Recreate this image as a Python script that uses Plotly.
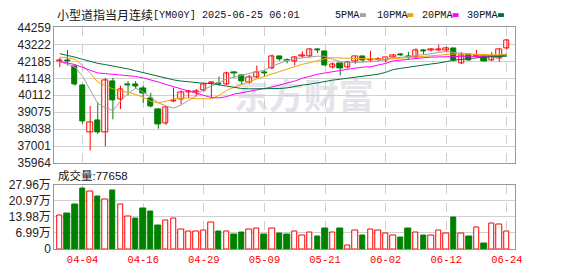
import plotly.graph_objects as go

dates = ["04-01","04-02","04-03","04-04","04-07","04-08","04-09","04-10","04-11","04-14",
         "04-15","04-16","04-17","04-21","04-22","04-23","04-24","04-25","04-28","04-29",
         "04-30","05-01","05-02","05-05","05-06","05-07","05-08","05-09","05-12","05-13",
         "05-14","05-15","05-16","05-19","05-20","05-21","05-22","05-23","05-26","05-27",
         "05-28","05-29","05-30","06-02","06-03","06-04","06-05","06-06","06-09","06-10",
         "06-11","06-12","06-13","06-16","06-17","06-18","06-19","06-20","06-23","06-24"]

open_ = [42180,42260,41890,40700,37850,38550,37850,40980,39840,40750,
         40750,40540,39940,39270,38400,39750,39840,40280,40300,40410,
         40830,40850,40790,41480,41320,40890,41210,41510,41780,42500,
         42270,42160,42480,42460,42900,42790,41830,42060,41800,42200,
         42460,42270,42290,42250,42440,42630,42480,42400,42860,42850,
         42860,42880,42980,42030,42600,42480,42500,42220,42350,42980]
high_ = [42405,42880,41930,40790,39460,39690,41170,41170,40700,40980,
         40980,40700,40260,39330,39440,40580,40410,40410,40500,40850,
         40920,41260,41550,41590,41400,41360,41930,41650,42600,42500,
         42370,42500,42790,42980,42980,42820,42120,42060,42220,42500,
         42500,42830,42440,42400,42630,42690,42770,42980,42940,42980,
         43200,43070,42980,42750,42630,42880,42560,42750,42980,43550]
low_ = [41835,41930,40700,38380,36740,37750,36990,38640,39270,40120,
        40510,39650,39370,38070,38300,39690,39560,39940,40030,40320,
        39970,40700,40750,41170,40790,40830,41170,41270,41700,42220,
        42060,41930,42400,42420,42690,41890,41740,41320,41740,42030,
        42120,42180,42220,42120,42400,42500,42310,42350,42600,42790,
        42790,42790,42180,42030,42220,42440,42160,42220,42160,42920]
close_ = [42240,42180,40750,38510,38470,37850,41040,39800,40450,40700,
          40640,40220,39460,38360,39400,39820,40260,40330,40340,40790,
          40870,40800,41450,41430,40980,41210,41490,41470,42500,42310,
          42230,42400,42520,42920,42860,41930,42020,41780,42120,42460,
          42220,42310,42330,42400,42560,42520,42440,42840,42820,42890,
          42920,42980,42220,42560,42250,42520,42160,42500,42920,43450]

ma5 = [42177,42025,41835,41265,40410,39612,39365,39175,39745,40220,
       40543,40315,39992,39650,39460,39327,39517,39802,40087,40467,
       40657,40885,41113,41208,41322,41455,41550,41645,41892,42063,
       42234,42348,42405,42481,42500,42500,42310,42177,42120,42120,
       42120,42158,42215,42291,42405,42424,42462,42538,42595,42671,
       42747,42785,42728,42671,42614,42557,42538,42538,42538,42595]
ma10 = [42443,42405,42310,41930,41455,40923,40695,40505,40372,40296,
        40163,39992,39745,39650,39745,39878,39935,39954,39897,39897,
        39897,40100,40410,40600,40790,40942,41113,41265,41417,41588,
        41740,41892,42006,42101,42215,42348,42405,42386,42367,42348,
        42329,42310,42291,42310,42348,42386,42424,42462,42500,42538,
        42576,42633,42633,42633,42614,42595,42576,42557,42576,42633]
ma20 = [42177,42101,41987,41816,41645,41474,41436,41398,41360,41322,
        41265,41170,41056,40923,40771,40638,40505,40391,40258,40087,
        39973,39950,40030,40182,40258,40353,40429,40524,40619,40733,
        40866,40980,41151,41284,41398,41474,41531,41626,41702,41778,
        41835,41854,41949,42063,42215,42272,42310,42367,42405,42443,
        42462,42481,42500,42500,42500,42481,42481,42500,42519,42557]
ma30 = [42652,42557,42443,42310,42177,42063,41987,41911,41835,41721,
        41607,41493,41379,41265,41151,41056,40980,40923,40885,40847,
        40828,40750,40640,40562,40524,40505,40505,40505,40505,40524,
        40562,40657,40733,40790,40885,40961,41037,41094,41151,41208,
        41265,41322,41398,41512,41683,41759,41835,41892,41949,42025,
        42082,42177,42253,42310,42367,42405,42443,42462,42481,42500]

volume = [145000,155000,191000,261000,248000,228000,214000,252000,194000,141000,
          134000,175000,163000,102000,125000,134000,84000,76000,76000,80000,
          113000,77000,76000,64000,73000,84000,88000,64000,88000,69000,
          61000,76000,57000,72000,53000,90000,72000,90000,15000,80000,
          57000,85000,80000,68000,57000,49000,90000,72000,57000,57000,
          80000,69000,138000,69000,53000,94000,24000,109000,105000,77658]
vol_up = [1,0,0,0,1,0,1,0,1,1,
          0,0,0,0,1,1,1,1,1,1,
          1,0,1,0,0,1,1,0,1,0,
          0,1,1,1,0,0,1,0,1,1,
          0,1,1,1,1,0,0,1,0,1,
          1,1,0,1,0,1,0,1,1,1]

price_ticks = [35964, 37001, 38038, 39075, 40112, 41148, 42185, 43222, 44259]
vol_ticks = [0, 69900, 139800, 209700, 279600]
vol_tick_text = ["0", "6.99万", "13.98万", "20.97万", "27.96万"]
date_ticks = ["04-04", "04-16", "04-29", "05-09", "05-21", "06-02", "06-12", "06-24"]
last_volume = 77658

RED = "#ff0000"
GREEN = "#008000"
MA_COLORS = ["#a0a0a0", "#f5a200", "#ff00ff", "#00703a"]
MA_NAMES = ["5PMA", "10PMA", "20PMA", "30PMA"]

W, H = 578, 276
def px(x): return x / W
def py(y): return 1 - y / H

fig = go.Figure()

# wicks
for up_flag, color in ((True, RED), (False, GREEN)):
    xs, ys = [], []
    for d, o, h, l, c in zip(dates, open_, high_, low_, close_):
        if (c >= o) == up_flag:
            xs += [d, d, None]
            ys += [l, h, None]
    fig.add_trace(go.Scatter(x=xs, y=ys, mode="lines", line=dict(color=color, width=1),
                             xaxis="x2", yaxis="y2", hoverinfo="skip", showlegend=False))

# bodies
base = [min(o, c) for o, c in zip(open_, close_)]
height = [max(abs(c - o), 15) for o, c in zip(open_, close_)]
ups = [c >= o for o, c in zip(open_, close_)]
fig.add_trace(go.Bar(x=dates, y=height, base=base, width=0.7,
                     marker=dict(color=["#ffffff" if u else GREEN for u in ups],
                                 line=dict(color=[RED if u else GREEN for u in ups], width=1)),
                     xaxis="x2", yaxis="y2", showlegend=False))

# moving averages
for vals, col in zip((ma5, ma10, ma20, ma30), MA_COLORS):
    fig.add_trace(go.Scatter(x=dates, y=vals, mode="lines", line=dict(color=col, width=1),
                             xaxis="x2", yaxis="y2", showlegend=False))

# volume
fig.add_trace(go.Bar(x=dates, y=volume, width=0.72,
                     marker=dict(color=["#ffffff" if u else GREEN for u in vol_up],
                                 line=dict(color=[RED if u else GREEN for u in vol_up], width=1)),
                     xaxis="x", yaxis="y", showlegend=False))

xr = [-0.742, 60.04]
dom_x = [px(55), px(522)]
common_x = dict(type="category", categoryorder="array", categoryarray=dates,
                range=xr, domain=dom_x, showgrid=True, gridcolor="#cfcfcf",
                griddash="dash", gridwidth=1, tickvals=date_ticks, showline=True, mirror=True,
                linecolor="#999999", linewidth=1, zeroline=False, ticks="", tickangle=0)
ylab_font = dict(family="Liberation Sans, Arial, Noto Sans CJK SC", size=12, color="#222222")

fig.update_layout(
    width=W, height=H, margin=dict(l=0, r=0, t=0, b=0),
    paper_bgcolor="#ffffff", plot_bgcolor="#ffffff", bargap=0,
    xaxis=dict(**common_x, anchor="y", ticktext=date_ticks,
               tickfont=dict(family="Liberation Mono, DejaVu Sans Mono", size=10.5, color=RED)),
    xaxis2=dict(**common_x, anchor="y2", matches="x", showticklabels=False),
    yaxis=dict(domain=[py(255), py(187)], range=[0, 279600], tickvals=vol_ticks, ticktext=vol_tick_text,
               showgrid=True, gridcolor="#d0d0d0", gridwidth=1, showline=True, mirror=True,
               linecolor="#999999", linewidth=1, zeroline=False, ticks="", tickfont=ylab_font),
    yaxis2=dict(domain=[py(164.5), py(21.5)], range=[price_ticks[0], price_ticks[-1]],
                tickvals=price_ticks, ticktext=[str(t) for t in price_ticks],
                showgrid=True, gridcolor="#d0d0d0", gridwidth=1, showline=True, mirror=True,
                linecolor="#999999", linewidth=1, zeroline=False, ticks="", tickfont=ylab_font),
)

# watermark
fig.add_shape(type="rect", xref="paper", yref="paper", x0=px(236), x1=px(380), y0=py(116), y1=py(78),
              layer="between", line=dict(width=0), fillcolor="rgba(0,0,0,0)",
              label=dict(text="东方财富", font=dict(family="Noto Sans CJK SC", size=35, color="#e4e4ea", weight=700)))

mono = "Liberation Mono, DejaVu Sans Mono"
ann = []
ann.append(dict(text="小型道指当月连续", x=px(56), y=py(8), xanchor="left", yanchor="middle",
                font=dict(family="Noto Sans CJK SC", size=12, color="#111111")))
ann.append(dict(text="[YM00Y] 2025-06-25 06:01", x=px(153), y=py(8.5), xanchor="left", yanchor="middle",
                font=dict(family=mono, size=10.2, color="#111111")))
leg_x = [338, 380, 426, 472]
sq_x = [365, 413, 459, 505]
for name, col, lx, sx in zip(MA_NAMES, MA_COLORS, leg_x, sq_x):
    ann.append(dict(text=name, x=px(lx), y=py(8.5), xanchor="left", yanchor="middle",
                    font=dict(family=mono, size=10.2, color="#111111")))
    fig.add_shape(type="rect", xref="paper", yref="paper", x0=px(sx), x1=px(sx + 6), y0=py(10.5), y1=py(6.5),
                  line=dict(width=0), fillcolor=col)
ann.append(dict(text="成交量:" + str(last_volume), x=px(57), y=py(177), xanchor="left", yanchor="middle",
                font=dict(family="Liberation Sans, Noto Sans CJK SC", size=11.5, color="#111111")))
for a in ann:
    a.update(xref="paper", yref="paper", showarrow=False)
fig.update_layout(annotations=ann)

fig.write_html("out.html")
